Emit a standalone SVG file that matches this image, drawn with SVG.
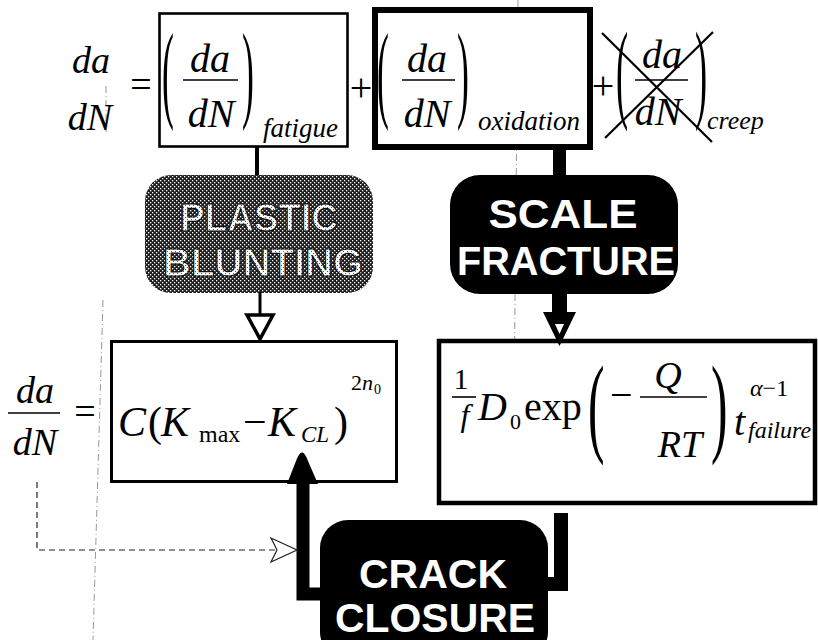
<svg xmlns="http://www.w3.org/2000/svg" width="818" height="640" viewBox="0 0 818 640">
<style>
.m{font-family:"Liberation Serif","Times New Roman",serif;font-style:italic;fill:#000}
.r{font-family:"Liberation Serif","Times New Roman",serif;font-style:normal;fill:#000}
.c{text-anchor:middle}
.box{fill:#fff;stroke:#000}
.lbl{font-family:"Liberation Sans",Arial,sans-serif;font-weight:bold;text-anchor:middle}
.wt{fill:#fff}
.fl{stroke:#000;stroke-width:1.6}
.scan{stroke:#999;stroke-width:1;fill:none;stroke-dasharray:7 3 1 3}
</style>
<defs>
<pattern id="hatch" width="4" height="4" patternUnits="userSpaceOnUse">
<rect width="4" height="4" fill="#1e1e1e"/>
<rect x="0" y="0" width="1.3" height="1.3" fill="#fff"/>
<rect x="2" y="2" width="1.3" height="1.3" fill="#fff"/>
</pattern>
<pattern id="tdots" width="4" height="4" patternUnits="userSpaceOnUse">
<rect width="4" height="4" fill="#fff"/>
<rect x="1" y="1" width="1" height="1" fill="#555"/>
<rect x="3" y="3" width="1" height="1" fill="#555"/>
</pattern>
</defs>
<rect width="818" height="640" fill="#fff"/>

<g id="scanlines">
<line class="scan" x1="106" y1="86" x2="106" y2="132"/>
<line class="scan" x1="103" y1="300" x2="93" y2="640"/>
<line class="scan" x1="518" y1="0" x2="513" y2="505"/>
</g>

<g id="lhs-top">
<text class="m c" x="91" y="73" font-size="38">da</text>
<text class="m c" x="90" y="130" font-size="38">dN</text>
<text class="r c" x="141" y="97" font-size="38">=</text>
</g>

<g id="fatigue">
<rect class="box" x="159.5" y="13.5" width="188" height="133" stroke-width="2.6"/>
<text class="r" font-size="108" transform="translate(162,108) scale(0.33,1)">(</text>
<text class="m c" x="210" y="72" font-size="40">da</text>
<line class="fl" x1="183" y1="80" x2="238" y2="80"/>
<text class="m c" x="211" y="127" font-size="40">dN</text>
<text class="r" font-size="108" transform="translate(242,108) scale(0.33,1)">)</text>
<text class="m" x="263" y="137" font-size="27">fatigue</text>
</g>

<text class="r c" x="361" y="101" font-size="40">+</text>

<g id="oxidation">
<rect class="box" x="375" y="10" width="215" height="137" stroke-width="6"/>
<text class="r" font-size="108" transform="translate(377,108) scale(0.33,1)">(</text>
<text class="m c" x="427" y="72" font-size="40">da</text>
<line class="fl" x1="402" y1="80" x2="455" y2="80"/>
<text class="m c" x="427" y="127" font-size="40">dN</text>
<text class="r" font-size="108" transform="translate(457,108) scale(0.33,1)">)</text>
<text class="m" x="478" y="130" font-size="27">oxidation</text>
</g>

<text class="r c" x="603" y="99" font-size="40">+</text>

<g id="creep">
<text class="r" font-size="110" transform="translate(616,108) scale(0.33,1)">(</text>
<text class="m c" x="662" y="68" font-size="40">da</text>
<line class="fl" x1="635" y1="80" x2="688" y2="80"/>
<text class="m c" x="658" y="125" font-size="40">dN</text>
<text class="r" font-size="110" transform="translate(695,108) scale(0.33,1)">)</text>
<text class="m" x="707" y="129" font-size="26">creep</text>
<line x1="602" y1="33" x2="712" y2="142" stroke="#000" stroke-width="2.2"/>
<line x1="605" y1="138" x2="713" y2="32" stroke="#000" stroke-width="2.2"/>
</g>

<g id="plastic-blunting">
<rect x="145" y="175" width="228" height="118" rx="26" fill="url(#hatch)"/>
<text class="lbl" x="259" y="231" font-size="38" textLength="158" lengthAdjust="spacingAndGlyphs" fill="url(#tdots)" stroke="#111" stroke-width="1.2">PLASTIC</text>
<text class="lbl" x="263" y="276" font-size="38" textLength="200" lengthAdjust="spacingAndGlyphs" fill="url(#tdots)" stroke="#111" stroke-width="1.2">BLUNTING</text>
</g>

<g id="scale-fracture">
<rect x="450" y="175" width="228" height="119" rx="30" fill="#000"/>
<text class="lbl wt" x="563" y="228" font-size="40" textLength="149" lengthAdjust="spacingAndGlyphs">SCALE</text>
<text class="lbl wt" x="566" y="275" font-size="40" textLength="218" lengthAdjust="spacingAndGlyphs">FRACTURE</text>
</g>

<g id="lhs-bottom">
<text class="m c" x="35" y="403" font-size="38">da</text>
<line class="fl" x1="8" y1="413" x2="60" y2="413"/>
<text class="m c" x="35" y="455" font-size="38">dN</text>
<text class="r c" x="85" y="424" font-size="38">=</text>
</g>

<g id="closure-law">
<rect class="box" x="111.5" y="341.5" width="285" height="140" stroke-width="3"/>
<text class="m" x="118" y="436" font-size="42">C</text>
<text class="r" x="148" y="436" font-size="42">(</text>
<text class="m" x="161" y="436" font-size="42">K</text>
<text class="r" x="199" y="442" font-size="24">max</text>
<text class="r" x="243" y="436" font-size="42">−</text>
<text class="m" x="268" y="436" font-size="42">K</text>
<text class="m" x="301" y="442" font-size="23">CL</text>
<text class="r" x="334" y="436" font-size="42">)</text>
<text class="r" x="351" y="390" font-size="22">2</text>
<text class="m" x="362" y="390" font-size="22">n</text>
<text class="r" x="374" y="394" font-size="14">0</text>
</g>

<g id="oxidation-law">
<rect class="box" x="439" y="341" width="376" height="162" stroke-width="4.5"/>
<text class="r c" x="461" y="389" font-size="30">1</text>
<line class="fl" x1="452" y1="397" x2="476" y2="397"/>
<text class="m c" x="465" y="426" font-size="32">f</text>
<text class="m" x="478" y="420" font-size="40">D</text>
<text class="r" x="510" y="429" font-size="22">0</text>
<text class="r" x="524" y="420" font-size="40">exp</text>
<text class="r" font-size="110" transform="translate(588,442) scale(0.45,1)">(</text>
<text class="r" x="610" y="408" font-size="40">−</text>
<text class="m c" x="668" y="388" font-size="38">Q</text>
<line class="fl" x1="640" y1="397" x2="707" y2="397"/>
<text class="m c" x="680" y="457" font-size="38">RT</text>
<text class="r" font-size="110" transform="translate(711,442) scale(0.45,1)">)</text>
<text class="m" x="734" y="435" font-size="40">t</text>
<text class="r" x="750" y="396" font-size="24"><tspan class="m">α</tspan>−1</text>
<text class="m" x="748" y="438" font-size="24">failure</text>
</g>

<g id="crack-closure">
<rect x="320" y="520" width="228" height="140" rx="28" fill="#000"/>
<text class="lbl wt" x="433" y="588" font-size="41" textLength="148" lengthAdjust="spacingAndGlyphs">CRACK</text>
<text class="lbl wt" x="435" y="632" font-size="40" textLength="200" lengthAdjust="spacingAndGlyphs">CLOSURE</text>
</g>

<g id="connectors">
<line x1="257" y1="147" x2="257" y2="175" stroke="#000" stroke-width="4"/>
<rect x="553" y="150" width="13" height="25" fill="#000"/>
<line x1="260" y1="292" x2="260" y2="316" stroke="#000" stroke-width="3"/>
<polygon points="247,315 273,315 260,339" fill="#fff" stroke="#000" stroke-width="3.5"/>
<rect x="552" y="293" width="15" height="22" fill="#000"/>
<polygon points="543,312 576,312 559.5,346" fill="#000"/>
<polygon points="555,324 564,324 559.5,334" fill="#fff"/>
<path d="M320,594 H303 V470" fill="none" stroke="#000" stroke-width="13"/>
<path d="M287,484 L296,461 Q302,444 308,461 L318,484 Z" fill="#000"/>
<path d="M561,513 V584 H545" fill="none" stroke="#000" stroke-width="14"/>
<path d="M37,482 V550 H296" fill="none" stroke="#222" stroke-width="1.2" stroke-dasharray="6 4"/>
<polygon points="271,538 297,550 271,562 277,550" fill="#fff" stroke="#222" stroke-width="1.2"/>
</g>
</svg>
